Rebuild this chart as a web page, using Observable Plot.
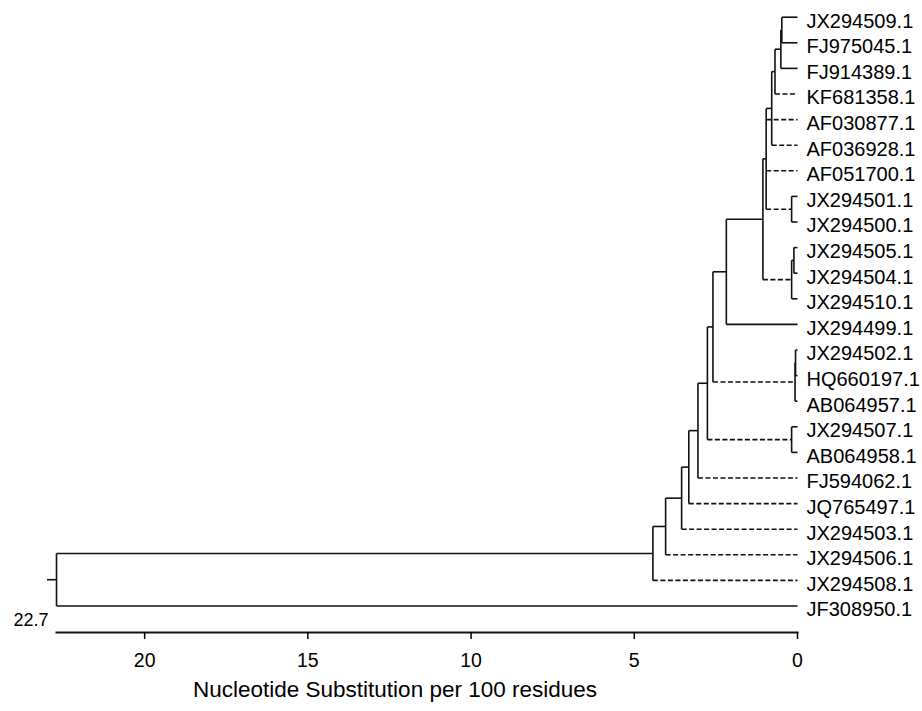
<!DOCTYPE html>
<html><head><meta charset="utf-8">
<script src="https://cdn.jsdelivr.net/npm/d3@7"></script>
<script src="https://cdn.jsdelivr.net/npm/@observablehq/plot@0.6"></script>
<style>body{margin:0;background:#fff;}</style>
</head><body><div id="chart"></div>
<script>
// Leaves, top to bottom
const leafNames = [
  "JX294509.1","FJ975045.1","FJ914389.1","KF681358.1","AF030877.1","AF036928.1",
  "AF051700.1","JX294501.1","JX294500.1","JX294505.1","JX294504.1","JX294510.1",
  "JX294499.1","JX294502.1","HQ660197.1","AB064957.1","JX294507.1","AB064958.1",
  "FJ594062.1","JQ765497.1","JX294503.1","JX294506.1","JX294508.1","JF308950.1"
];
// Internal nodes (children listed before parents)
const nodeIds = ["A","B","C","D","F","E","G1","G","H","I","J1","K","L","M","N","T","S","Q","P","O","R"];
const nodeHeights = [0.48,0.51,0.69,0.79,0.18,0.96,0.11,0.18,1.06,2.18,0.06,0.075,2.59,0.18,2.76,3.05,3.33,3.55,4.04,4.43,22.7];
const nodeChildren = [
  ["JX294509.1","FJ975045.1"],
  ["A","FJ914389.1"],
  ["B","KF681358.1"],
  ["C","AF036928.1"],
  ["JX294501.1","JX294500.1"],
  ["D","AF030877.1","AF051700.1","F"],
  ["JX294505.1","JX294504.1"],
  ["G1","JX294510.1"],
  ["E","G"],
  ["H","JX294499.1"],
  ["JX294502.1","HQ660197.1"],
  ["J1","AB064957.1"],
  ["I","K"],
  ["JX294507.1","AB064958.1"],
  ["L","M"],
  ["N","FJ594062.1"],
  ["T","JQ765497.1"],
  ["S","JX294503.1"],
  ["Q","JX294506.1"],
  ["P","JX294508.1"],
  ["O","JF308950.1"]
];
const dashedBranches = ["KF681358.1","AF030877.1","AF036928.1","AF051700.1","F","G","K","M",
  "FJ594062.1","JQ765497.1","JX294503.1","JX294506.1","JX294508.1"];
const xTicks = [20,15,10,5,0];
const axisTitle = "Nucleotide Substitution per 100 residues";

// layout
const info = new Map();
leafNames.forEach((n,i)=>info.set(n,{id:n,h:0,y:i,leaf:true}));
nodeIds.forEach((id,k)=>{
  const ch = nodeChildren[k].map(c=>info.get(c));
  const y = (ch[0].y + ch[ch.length-1].y)/2;
  const node = {id, h:nodeHeights[k], y, children:ch, leaf:false};
  ch.forEach(c=>c.parent=node);
  info.set(id,node);
});
const all = Array.from(info.values());
const root = info.get("R");
const horiz = all.filter(d=>d.parent).map(d=>({x1:d.parent.h, x2:d.h, y:d.y, dashed:dashedBranches.includes(d.id)}));
const vert = all.filter(d=>!d.leaf).map(d=>({x:d.h, y1:d.children[0].y, y2:d.children[d.children.length-1].y}));
const leaves = all.filter(d=>d.leaf);

const stroke = "#111";
const chart = Plot.plot({
  width: 922, height: 711,
  marginLeft: 56, marginRight: 125, marginTop: 10, marginBottom: 79,
  style: {fontFamily: "'Liberation Sans', Arial, sans-serif", fontSize: "18px", background: "#fff", color: "#000"},
  x: {domain: [root.h, 0], axis: null},
  y: {domain: [0, leafNames.length-1], range: [16.7, 605.5], axis: null},
  marks: [
    Plot.link(horiz.filter(d=>!d.dashed), {x1:"x1", x2:"x2", y1:"y", y2:"y", stroke, strokeWidth:1.6}),
    Plot.link(horiz.filter(d=>d.dashed), {x1:"x1", x2:"x2", y1:"y", y2:"y", stroke, strokeWidth:1.6, strokeDasharray:"5,2.5"}),
    Plot.link(vert, {x1:"x", x2:"x", y1:"y1", y2:"y2", stroke, strokeWidth:1.6}),
    Plot.ruleY([root], {y:"y", x1:"h", x2:"h", insetLeft:-9, stroke, strokeWidth:1.6}),
    Plot.text(leaves, {x:"h", y:"y", text:"id", textAnchor:"start", dx:9, dy:4, fontSize:20, fill:"#000"}),
    Plot.frame({anchor:"bottom", stroke, strokeWidth:2}),
    Plot.axisX({ticks: xTicks, tickSize:7, tickPadding:14, fontSize:19.5, label:null, strokeWidth:1.5, tickFormat: d=>String(d)}),
    Plot.text([root.h], {x:d=>d, frameAnchor:"bottom", text:d=>d.toFixed(1), textAnchor:"end", dx:-8, dy:-7, fontSize:18, fill:"#000"}),
    Plot.text([axisTitle], {frameAnchor:"bottom", text:d=>d, dx:-32, dy:64, fontSize:22.5, fill:"#000"})
  ]
});
document.getElementById("chart").append(chart);
</script>
</body></html>
